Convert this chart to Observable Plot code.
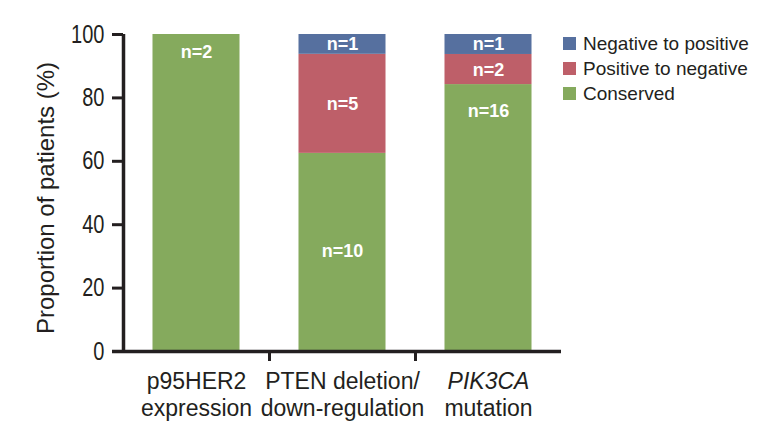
<!DOCTYPE html>
<html>
<head>
<meta charset="utf-8">
<script src="https://cdn.jsdelivr.net/npm/d3@7"></script>
<script src="https://cdn.jsdelivr.net/npm/@observablehq/plot@0.6"></script>
<style>
  html, body { margin: 0; padding: 0; background: #fff; }
  #wrap { position: relative; width: 768px; height: 445px; overflow: hidden; }
  #legend { position: absolute; left: 563px; top: 31px; font-family: "Liberation Sans", Arial, sans-serif; font-size: 19px; color: #231f20; line-height: 25px; }
  #legend .item { display: flex; align-items: center; white-space: nowrap; }
  #legend .sw { width: 13px; height: 13px; margin-right: 7px; display: inline-block; }
</style>
</head>
<body>
<div id="wrap"><div id="legend"></div></div>
<script>
// ---- data ----
const categories = ["p95HER2 expression", "PTEN deletion/down-regulation", "PIK3CA mutation"];
const xLine1 = ["p95HER2", "PTEN deletion/", "PIK3CA"];
const xLine2 = ["expression", "down-regulation", "mutation"];
const line1Italic = [false, false, true];
const seriesNames = ["Conserved", "Positive to negative", "Negative to positive"];
const seriesColors = ["#85aa5d", "#be5f69", "#56709f"];
const conserved = [100, 62.5, 84.2];
const posToNeg = [0, 31.25, 9.5];
const negToPos = [0, 6.25, 6.3];
const countLabels = [
  {cat: 0, y: 94.3, text: "n=2"},
  {cat: 1, y: 96.9, text: "n=1"},
  {cat: 1, y: 78.1, text: "n=5"},
  {cat: 1, y: 31.5, text: "n=10"},
  {cat: 2, y: 96.9, text: "n=1"},
  {cat: 2, y: 88.8, text: "n=2"},
  {cat: 2, y: 75.7, text: "n=16"}
];
const yTicks = [0, 20, 40, 60, 80, 100];
const yLabel = "Proportion of patients (%)";
const legendOrder = ["Negative to positive", "Positive to negative", "Conserved"];

// ---- build table ----
const seriesValues = [conserved, posToNeg, negToPos];
const rows = [];
categories.forEach((c, i) => {
  seriesNames.forEach((s, k) => {
    rows.push({i, cat: c, series: s, value: seriesValues[k][i]});
  });
});
const half = 0.298;
const font = '"Liberation Sans", Arial, sans-serif';
const catIdx = categories.map((c, i) => i);
const bounds = catIdx.slice(0, -1).map(i => i + 0.5);
const ink = "#231f20";

const chart = Plot.plot({
  width: 768,
  height: 445,
  marginLeft: 123,
  marginRight: 207,
  marginTop: 34,
  marginBottom: 94,
  style: {fontFamily: font, background: "transparent"},
  x: {type: "linear", domain: [-0.5, categories.length - 0.5], axis: null},
  y: {type: "linear", domain: [0, 100], axis: null},
  color: {domain: seriesNames, range: seriesColors},
  marks: [
    Plot.rectY(rows, Plot.stackY({
      x1: d => d.i - half, x2: d => d.i + half, y: "value", fill: "series", order: seriesNames
    })),
    // count labels
    Plot.text(countLabels, {x: "cat", y: "y", text: "text", fill: "white", fontSize: 18, fontWeight: "bold"}),
    // y axis
    Plot.ruleX([-0.5], {y1: 0, y2: 100, stroke: ink, strokeWidth: 3.5}),
    Plot.ruleY(yTicks, {y: d => d, x1: -0.5, x2: -0.5, insetLeft: -11, stroke: ink, strokeWidth: 3}),
    Plot.text(yTicks, {x: -0.5, y: d => d, text: d => String(d), textAnchor: "end", dx: -19, fontSize: 25, fill: ink}),
    // x axis
    Plot.ruleY([0], {x1: -0.5, x2: categories.length - 0.5, insetLeft: -11, stroke: ink, strokeWidth: 3.5}),
    Plot.ruleX(bounds, {x: d => d, y1: 0, y2: 0, insetBottom: -10, stroke: ink, strokeWidth: 3}),
    Plot.text(catIdx.filter(i => !line1Italic[i]), {x: d => d, y: 0, text: d => xLine1[d], dy: 30, fontSize: 23, fill: ink}),
    Plot.text(catIdx.filter(i => line1Italic[i]), {x: d => d, y: 0, text: d => xLine1[d], dy: 30, fontSize: 23, fill: ink, fontStyle: "italic"}),
    Plot.text(catIdx, {x: d => d, y: 0, text: d => xLine2[d], dy: 57, fontSize: 23, fill: ink}),
    // y label
    Plot.text([yLabel], {frameAnchor: "left", textAnchor: "middle", rotate: -90, dx: -77, dy: 5, fontSize: 24, fill: ink, text: d => d})
  ]
});

document.getElementById("wrap").prepend(chart);

// condensed look for the tick digits (font-size 25 group)
d3.select(chart).selectAll('g[font-size="25"] text').each(function () {
  const w = this.getComputedTextLength();
  this.setAttribute("textLength", (w * 0.8).toFixed(2));
  this.setAttribute("lengthAdjust", "spacingAndGlyphs");
});

const legend = document.getElementById("legend");
legendOrder.forEach(name => {
  const k = seriesNames.indexOf(name);
  const div = document.createElement("div");
  div.className = "item";
  div.innerHTML = `<span class="sw" style="background:${seriesColors[k]}"></span><span>${name}</span>`;
  legend.appendChild(div);
});
</script>
</body>
</html>
